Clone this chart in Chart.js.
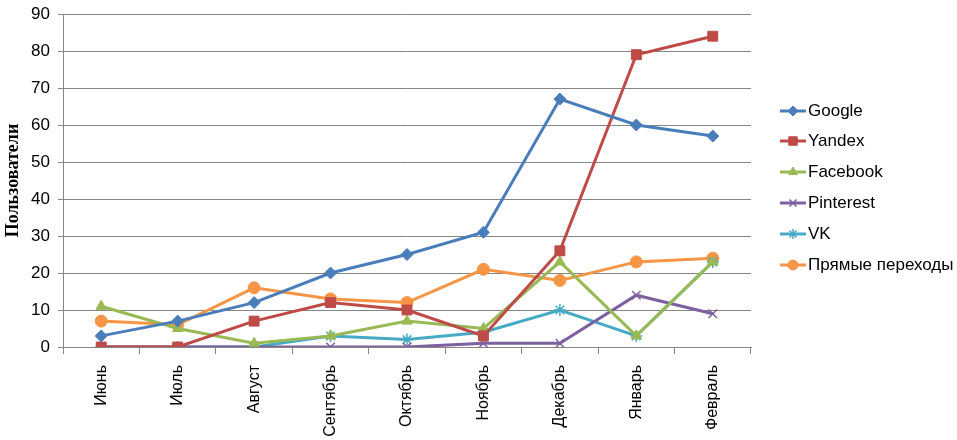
<!DOCTYPE html>
<html lang="ru">
  <head>
    <meta charset="UTF-8" />
    <title>Пользователи по источникам</title>
    <script src="https://cdn.jsdelivr.net/npm/chart.js"></script>
    <style>
      html, body { margin: 0; padding: 0; background: #fff; }
      .chart-container { width: 957px; height: 440px; position: relative; }
    </style>
  </head>
  <body>
    <div class="chart-container">
      <canvas id="lineChart"></canvas>
    </div>

    <script>
      const months = ["Июнь", "Июль", "Август", "Сентябрь", "Октябрь", "Ноябрь", "Декабрь", "Январь", "Февраль"];
      const google = [3, 7, 12, 20, 25, 31, 67, 60, 57];
      const yandex = [0, 0, 7, 12, 10, 3, 26, 79, 84];
      const facebook = [11, 5, 1, 3, 7, 5, 23, 3, 23];
      const pinterest = [0, 0, 0, 0, 0, 1, 1, 14, 9];
      const vk = [0, 0, 0, 3, 2, 4, 10, 3, 23];
      const direct = [7, 6, 16, 13, 12, 21, 18, 23, 24];
      const yTicks = [0, 10, 20, 30, 40, 50, 60, 70, 80, 90];

      const font = "'Liberation Sans', Arial, sans-serif";
      const gray = "#868686";

      function series(label, data, color, style, radius) {
        return {
          label: label,
          data: data,
          borderColor: color,
          backgroundColor: color,
          borderWidth: 3,
          pointStyle: style,
          pointRadius: radius,
          pointBorderWidth: style === "crossRot" || style === "star" ? 1.5 : 1,
          pointBorderColor: color,
          pointBackgroundColor: color,
          tension: 0,
        };
      }

      // легенда справа: линия с маркером + подпись
      const sideLegend = {
        id: "sideLegend",
        afterDraw(chart) {
          const c = chart.ctx;
          const rows = [111, 141, 172, 203, 234, 265];
          chart.data.datasets.forEach((ds, i) => {
            const y = rows[i];
            c.save();
            c.strokeStyle = ds.borderColor;
            c.lineWidth = 3;
            c.beginPath();
            c.moveTo(780, y);
            c.lineTo(806, y);
            c.stroke();
            c.fillStyle = ds.borderColor;
            c.strokeStyle = ds.borderColor;
            c.lineWidth = ds.pointBorderWidth;
            Chart.helpers.drawPoint(c, { pointStyle: ds.pointStyle, radius: ds.pointRadius - 1, rotation: 0, borderWidth: ds.pointBorderWidth }, 793, y);
            c.restore();
            c.save();
            c.fillStyle = "#000";
            c.font = "17px " + font;
            c.textBaseline = "middle";
            c.textAlign = "left";
            c.fillText(ds.label, 808, y);
            c.restore();
          });
        },
      };

      const ctx = document.getElementById("lineChart").getContext("2d");

      new Chart(ctx, {
        type: "line",
        data: {
          labels: months,
          datasets: [
            series("Google", google, "#4A7EBB", "rectRot", 6),
            series("Yandex", yandex, "#BE4B48", "rect", 7),
            series("Facebook", facebook, "#98B954", "triangle", 6),
            series("Pinterest", pinterest, "#7D60A0", "crossRot", 6),
            series("VK", vk, "#46AAC5", "star", 6),
            series("Прямые переходы", direct, "#F69546", "circle", 6),
          ],
        },
        options: {
          responsive: true,
          maintainAspectRatio: false,
          animation: false,
          layout: { padding: { top: 0, right: 206, bottom: 0, left: 3 } },
          plugins: {
            legend: { display: false },
            tooltip: { enabled: false },
          },
          scales: {
            x: {
              offset: true,
              grid: {
                offset: true,
                drawOnChartArea: false,
                color: gray,
                tickLength: 7,
              },
              border: { color: gray, width: 1 },
              ticks: {
                color: "#000",
                font: { family: font, size: 16 },
                minRotation: 90,
                maxRotation: 90,
                padding: 11,
              },
              afterFit(scale) {
                scale.height = 93;
              },
            },
            y: {
              min: 0,
              max: 90,
              afterBuildTicks(scale) {
                scale.ticks = yTicks.map((v) => ({ value: v }));
              },
              grid: { color: gray, tickLength: 5 },
              border: { color: gray, width: 1 },
              ticks: {
                color: "#000",
                font: { family: font, size: 17 },
                padding: 8,
              },
              title: {
                display: true,
                text: "Пользователи",
                color: "#000",
                font: { family: "'Liberation Serif', 'Times New Roman', serif", size: 18, weight: "bold" },
                padding: 0,
              },
              afterFit(scale) {
                scale.width = 60;
                // верх области графика как в оригинале (~14px)
                scale.paddingTop = 14;
              },
            },
          },
        },
        plugins: [sideLegend],
      });
    </script>
  </body>
</html>
